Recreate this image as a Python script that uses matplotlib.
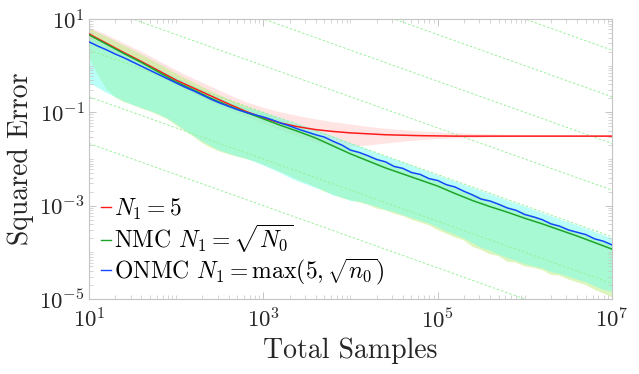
import numpy as np
import matplotlib
matplotlib.use("Agg")
import matplotlib.pyplot as plt
from matplotlib.ticker import LogLocator, NullFormatter, FixedLocator

plt.rcParams["font.family"] = "serif"
plt.rcParams["font.serif"] = ["cmr10"]
plt.rcParams["mathtext.fontset"] = "cm"
plt.rcParams["axes.formatter.use_mathtext"] = True

# total samples, log10 grid
x_coarse = np.logspace(1, 7, 31)   # 0.2 decade steps
x_fine = np.logspace(1, 7, 61)     # 0.1 decade steps

# log10 of squared error
red_line = [0.68, 0.48, 0.28, 0.09, -0.11, -0.31, -0.48, -0.65, -0.82, -0.98,
            -1.12, -1.23, -1.31, -1.37, -1.41, -1.44, -1.46, -1.48, -1.49, -1.50,
            -1.505, -1.51, -1.51, -1.51, -1.51, -1.51, -1.51, -1.51, -1.51, -1.51, -1.51]
red_up = [0.82, 0.66, 0.48, 0.30, 0.10, -0.10, -0.28, -0.45, -0.62, -0.78,
          -0.90, -1.00, -1.08, -1.15, -1.21, -1.26, -1.31, -1.35, -1.38, -1.41,
          -1.43, -1.45, -1.46, -1.47, -1.48, -1.485, -1.49, -1.49, -1.49, -1.49, -1.49]
red_lo = [0.55, 0.36, 0.16, -0.03, -0.23, -0.42, -0.60, -0.78, -0.94, -1.09,
          -1.24, -1.38, -1.52, -1.64, -1.72, -1.74, -1.71, -1.67, -1.63, -1.60,
          -1.57, -1.56, -1.55, -1.54, -1.535, -1.53, -1.53, -1.53, -1.53, -1.53, -1.53]

green_line = [0.66, 0.46, 0.26, 0.07, -0.14, -0.35, -0.52, -0.70, -0.86, -1.00,
              -1.14, -1.28, -1.41, -1.55, -1.72, -1.89, -2.04, -2.19, -2.32, -2.45,
              -2.58, -2.74, -2.89, -3.02, -3.14, -3.27, -3.39, -3.52, -3.65, -3.79, -3.93]
green_up = [0.80, 0.62, 0.43, 0.24, 0.04, -0.17, -0.36, -0.55, -0.72, -0.87,
            -1.01, -1.16, -1.31, -1.46, -1.61, -1.76, -1.91, -2.05, -2.19, -2.33,
            -2.47, -2.61, -2.74, -2.88, -3.02, -3.15, -3.29, -3.42, -3.56, -3.69, -3.82]
green_lo = [0.19, -0.20, -0.50, -0.68, -0.78, -0.84, -0.92, -0.98, -1.06, -1.15,
            -1.28, -1.40, -1.52, -1.66, -1.76, -1.84, -1.90, -1.95, -2.00, -2.05,
            -2.12, -2.20, -2.28, -2.36, -2.45, -2.52, -2.60, -2.70, -2.76, -2.84,
            -2.88, -2.93, -2.98, -3.06, -3.10, -3.17, -3.22, -3.30, -3.36, -3.42,
            -3.52, -3.60, -3.68, -3.74, -3.88, -3.95, -4.04, -4.08, -4.20, -4.22,
            -4.30, -4.33, -4.38, -4.48, -4.50, -4.58, -4.64, -4.70, -4.80, -4.88, -4.96]

blue_line = [0.51, 0.42, 0.34, 0.25, 0.17, 0.08, -0.01, -0.10, -0.19, -0.28,
             -0.37, -0.46, -0.54, -0.63, -0.72, -0.80, -0.87, -0.94, -1.00, -1.05,
             -1.10, -1.16, -1.23, -1.29, -1.36, -1.42, -1.48, -1.53, -1.62, -1.70,
             -1.81, -1.86, -1.93, -2.01, -2.06, -2.16, -2.20, -2.29, -2.33, -2.42,
             -2.46, -2.55, -2.60, -2.69, -2.77, -2.86, -2.90, -2.97, -3.05, -3.10,
             -3.19, -3.24, -3.30, -3.39, -3.44, -3.52, -3.57, -3.62, -3.71, -3.76, -3.84]
blue_up = [0.62, 0.45, 0.28, 0.10, -0.08, -0.26, -0.44, -0.62, -0.77, -0.90,
           -1.00, -1.12, -1.25, -1.37, -1.51, -1.66, -1.80, -1.94, -2.07, -2.21,
           -2.35, -2.48, -2.62, -2.75, -2.89, -3.02, -3.16, -3.29, -3.42, -3.56, -3.70]
blue_lo = [-0.37, -0.47, -0.58, -0.67, -0.76, -0.84, -0.90, -0.97, -1.04, -1.13,
           -1.25, -1.38, -1.50, -1.62, -1.72, -1.82, -1.88, -1.94, -1.99, -2.06,
           -2.14, -2.22, -2.30, -2.40, -2.48, -2.55, -2.62, -2.68, -2.78, -2.82,
           -2.90, -2.91, -2.97, -3.02, -3.09, -3.13, -3.20, -3.26, -3.32, -3.38,
           -3.46, -3.55, -3.62, -3.70, -3.80, -3.90, -3.96, -4.05, -4.12, -4.18,
           -4.25, -4.30, -4.34, -4.42, -4.46, -4.52, -4.58, -4.64, -4.72, -4.80, -4.84]

# reference lines c * T^(-2/3)
guide_exps = [-1, 0, 1, 2, 3, 4, 5]
x_ticks = [1e1, 1e3, 1e5, 1e7]
y_ticks = [1e-5, 1e-3, 1e-1, 1e1]
labels = [r"$N_1 = 5$", r"NMC $N_1 = \sqrt{N_0}$", r"ONMC $N_1 = \max(5, \sqrt{n_0})$"]


def band(ax, xu, up, xl, lo, color, alpha):
    xs = np.concatenate([xu, xl[::-1]])
    ys = 10.0 ** np.concatenate([np.array(up), np.array(lo)[::-1]])
    ax.fill(xs, ys, color=color, alpha=alpha, lw=0, zorder=1)


fig = plt.figure(figsize=(6.39, 3.74), dpi=100)
ax = fig.add_axes([0.1393, 0.2005, 0.8184, 0.7487])

band(ax, x_coarse, red_up, x_coarse, red_lo, "#ffb3b3", 0.35)
band(ax, x_coarse, green_up, x_fine, green_lo, "#b8ec7c", 0.5)
band(ax, x_coarse, blue_up, x_fine, blue_lo, "#66ffee", 0.45)

xg = np.array([10.0, 1e7])
for k in guide_exps:
    ax.plot(xg, 10.0 ** k * xg ** (-2.0 / 3.0), color="#9af09a", lw=0.7,
            ls=(0, (2.5, 2)), zorder=2)

ax.plot(x_coarse, 10.0 ** np.array(red_line), color="#ff1a1a", lw=1.1, zorder=3, label=labels[0])
ax.plot(x_coarse, 10.0 ** np.array(green_line), color="#1ea52a", lw=1.1, zorder=4, label=labels[1])
ax.plot(x_fine, 10.0 ** np.array(blue_line), color="#1448ff", lw=1.1, zorder=5, label=labels[2])

ax.set_xscale("log")
ax.set_yscale("log")
ax.set_xlim(10, 1e7)
ax.set_ylim(1e-5, 10)
ax.xaxis.set_major_locator(FixedLocator(x_ticks))
ax.yaxis.set_major_locator(FixedLocator(y_ticks))
ax.xaxis.set_minor_locator(LogLocator(base=10, subs=np.arange(1, 10), numticks=100))
ax.yaxis.set_minor_locator(LogLocator(base=10, subs=np.arange(1, 10), numticks=100))
ax.xaxis.set_minor_formatter(NullFormatter())
ax.yaxis.set_minor_formatter(NullFormatter())

for s in ax.spines.values():
    s.set_color("#c4c4c4")
    s.set_linewidth(0.8)
ax.tick_params(which="both", direction="in", top=True, right=True, color="#c4c4c4",
               labelcolor="#262626", labelsize=16.5)
ax.tick_params(axis="x", which="major", length=5, width=0.7, pad=6)
ax.tick_params(axis="y", which="major", length=5, width=0.7, pad=3)
ax.tick_params(which="minor", length=3, width=0.5)

ax.set_xlabel("Total Samples", fontsize=20, color="#262626", labelpad=4)
ax.set_ylabel("Squared Error", fontsize=20, color="#262626", labelpad=4)

leg = ax.legend(loc="lower left", bbox_to_anchor=(0.0, 0.0), frameon=False, fontsize=17,
                handlelength=0.45, handletextpad=0.1, labelspacing=0.05, borderaxespad=0.1)
for h in leg.get_lines():
    h.set_linewidth(1.0)

fig.savefig("out.png", dpi=100)
